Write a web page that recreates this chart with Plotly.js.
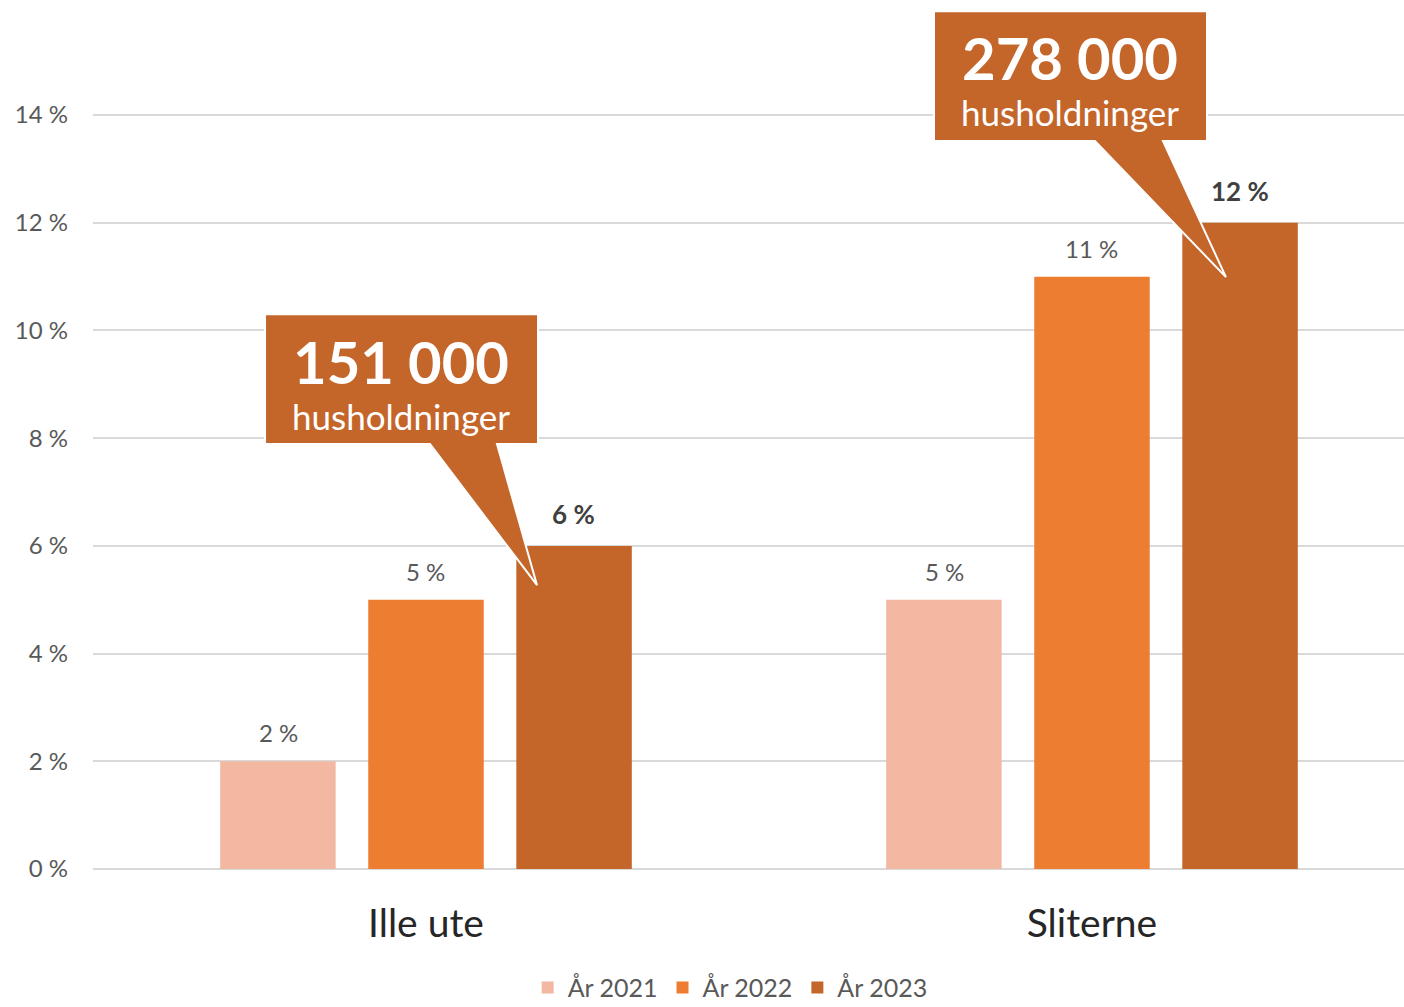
<!DOCTYPE html>
<html>
<head>
<meta charset="utf-8">
<script src="https://cdn.plot.ly/plotly-3.0.1.min.js"></script>
<style>html,body{margin:0;padding:0;background:#fff;}#chart{width:1404px;height:1007px;}</style>
</head>
<body>
<div id="chart"></div>
<script>
const categories = ['Ille ute', 'Sliterne'];
const seriesNames = ['År 2021', 'År 2022', 'År 2023'];
const values2021 = [2, 5];
const values2022 = [5, 11];
const values2023 = [6, 12];
const calloutNumbers = ['151 000', '278 000'];
const calloutUnit = 'husholdninger';
const yTicks = [0, 2, 4, 6, 8, 10, 12, 14];

const colors = ['#F2B8A2', '#ED7D31', '#C4652A'];
const FONT = 'Lato, "Open Sans", sans-serif';

const allSeries = [values2021, values2022, values2023];
const data = allSeries.map((vals, i) => ({
  type: 'bar', name: seriesNames[i], x: categories, y: vals,
  marker: {color: colors[i]}, hoverinfo: 'skip'
}));

// value labels above the bars (bar offset within the group = slot index)
const slotOffset = [-0.222, 0, 0.222];
const valueLabels = [];
allSeries.forEach((vals, i) => {
  const bold = i === 2;
  vals.forEach((v, j) => {
    valueLabels.push({
      xref: 'x', yref: 'y', x: j + slotOffset[i], y: v, yanchor: 'bottom',
      yshift: bold ? 14 : 12, showarrow: false,
      text: bold ? '<b>' + v + ' %</b>' : v + ' %',
      font: {family: FONT, size: bold ? 26 : 24, color: bold ? '#404040' : '#595959'}
    });
  });
});

// Callout geometry relative to the category index (box corners, tail base, tail tip)
function calloutPath(c) {
  const p = [
    [c.x0, c.yTop], [c.x1, c.yTop], [c.x1, c.yBot],
    [c.tb1, c.yBot], [c.tipX, c.tipY], [c.tb0, c.yBot],
    [c.x0, c.yBot]
  ];
  return 'M ' + p.map(q => q[0] + ',' + q[1]).join(' L ') + ' Z';
}
const callouts = [
  {x0: -0.2417, x1: 0.1682, yTop: 10.30, yBot: 7.89, tb0: 0.006, tb1: 0.1066,
   tipX: 0.1667, tipY: values2023[0] - 0.73, tx: -0.0368, ty: 9.05, label: calloutNumbers[0]},
  {x0: 0.7628, x1: 1.1727, yTop: 15.93, yBot: 13.52, tb0: 1.0045, tb1: 1.1066,
   tipX: 1.2012, tipY: values2023[1] - 1.01, tx: 0.9677, ty: 14.68, label: calloutNumbers[1]}
];

const shapes = callouts.map(c => ({
  type: 'path', xref: 'x', yref: 'y', path: calloutPath(c),
  fillcolor: '#C4652A', line: {color: '#FFFFFF', width: 2}, layer: 'above'
}));
const calloutLabels = callouts.map(c => ({
  xref: 'x', yref: 'y', x: c.tx, y: c.ty, showarrow: false,
  text: '<b><span style="font-size:58px">' + c.label + '</span></b><br><span style="font-size:35px">' + calloutUnit + '</span>',
  font: {family: FONT, color: '#FFFFFF', size: 35}, align: 'center'
}));

const layout = {
  width: 1404, height: 1007,
  margin: {l: 93, r: 0, t: 2, b: 138, autoexpand: false},
  paper_bgcolor: '#FFFFFF', plot_bgcolor: '#FFFFFF',
  barmode: 'group', bargap: 0.333, bargroupgap: 0.22,
  font: {family: FONT, color: '#595959'},
  xaxis: {
    type: 'category', range: [-0.5, 1.4685],
    showgrid: false, showline: false, zeroline: false, ticks: '',
    tickfont: {family: FONT, size: 39, color: '#262626'},
    ticklabelstandoff: 28, fixedrange: true, automargin: false
  },
  yaxis: {
    range: [0, 16.1], tickvals: yTicks, ticktext: yTicks.map(v => v + ' %'),
    showgrid: true, gridcolor: '#D9D9D9', gridwidth: 2,
    zeroline: true, zerolinecolor: '#D9D9D9', zerolinewidth: 2,
    showline: false, ticks: '',
    tickfont: {family: FONT, size: 24, color: '#595959'},
    ticklabelstandoff: 24, fixedrange: true, automargin: false
  },
  showlegend: true,
  legend: {
    orientation: 'h', x: 0.486, xanchor: 'center', y: -0.137, yanchor: 'middle',
    font: {family: FONT, size: 25, color: '#595959'},
    itemwidth: 30, traceorder: 'normal'
  },
  shapes: shapes,
  annotations: valueLabels.concat(calloutLabels)
};

Plotly.newPlot('chart', data, layout, {displayModeBar: false, staticPlot: true});
</script>
</body>
</html>
